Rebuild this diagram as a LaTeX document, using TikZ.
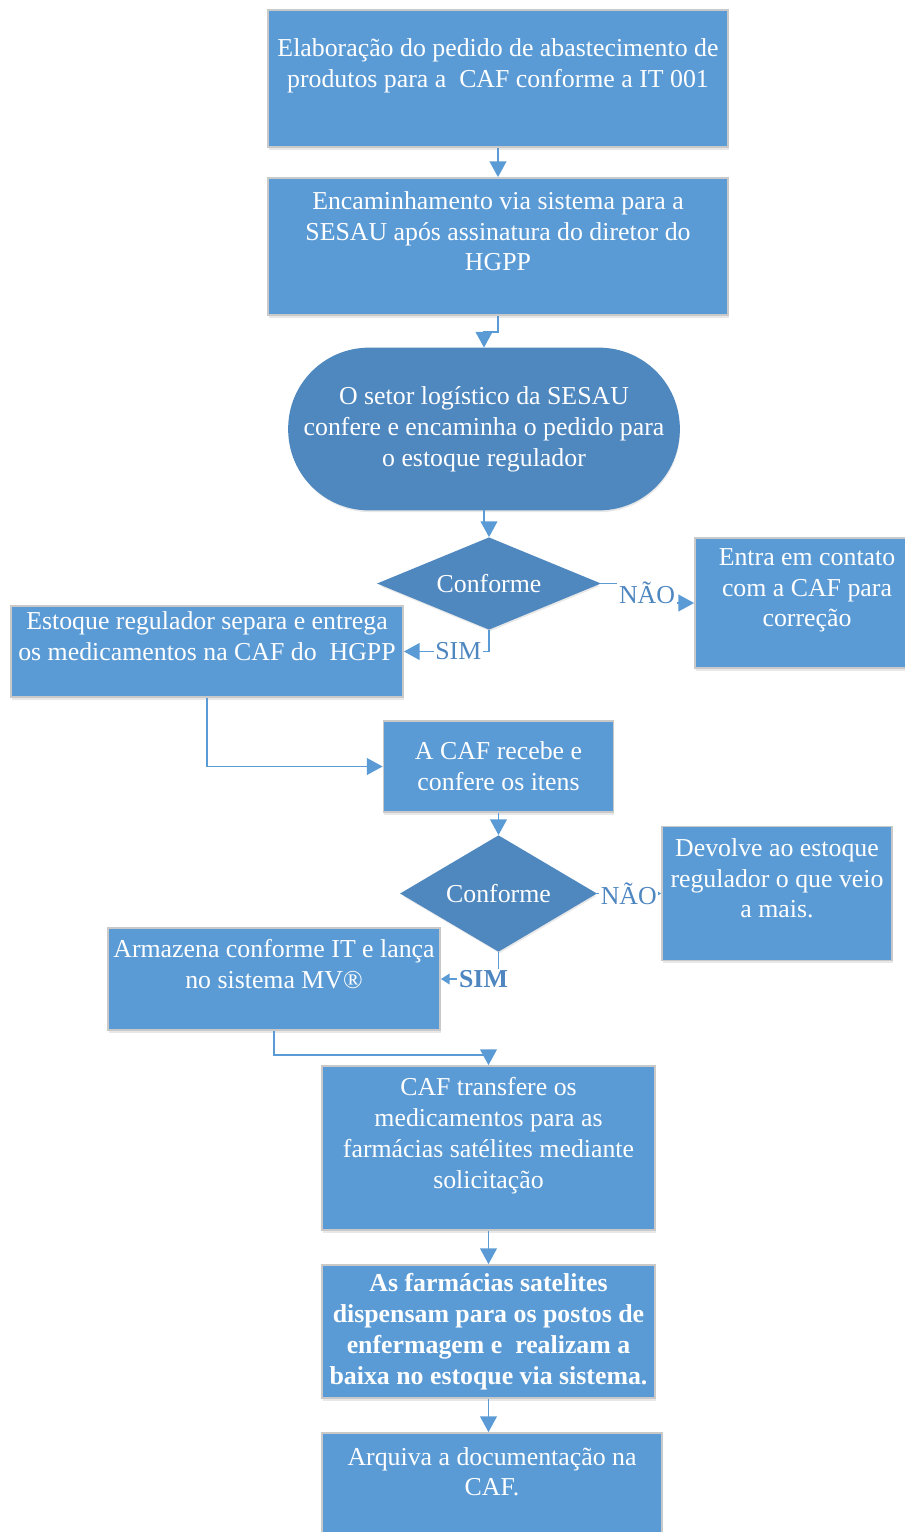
\documentclass[tikz,border=0pt]{standalone}
\usepackage{fontspec}
\setmainfont{Liberation Serif}
\usetikzlibrary{arrows.meta,shapes.geometric,shadows,calc}
\definecolor{boxblue}{HTML}{5B9BD5}
\definecolor{darkblue}{HTML}{4F87BF}
\definecolor{edge}{HTML}{C9C9C9}
\definecolor{lbltext}{HTML}{4E86C0}
\newcommand{\boxfont}{\fontsize{14.7}{17.6}\selectfont}
\tikzset{
  box/.style={draw=edge, line width=1pt, fill=boxblue, text=white, align=center, inner sep=1mm, font=\boxfont,
    drop shadow={shadow xshift=0.5pt, shadow yshift=-1.5pt, opacity=0.18}},
  roundbox/.style={box, draw=darkblue, fill=darkblue, rounded corners=1.6cm},
  decision/.style={box, diamond, draw=darkblue, fill=darkblue, inner sep=0pt},
  arrow/.style={-{Triangle[length=9pt,width=9.5pt]}, line width=1.1pt, draw=boxblue},
  smallarrow/.style={arrow, -{Triangle[length=5pt,width=6pt]}},
  lbl/.style={fill=white, text=lbltext, inner sep=1pt, font=\boxfont},
  boldlbl/.style={lbl, font=\boxfont\bfseries}
}

\begin{document}
\begin{tikzpicture}[x=0.02cm, y=-0.02cm]
  \useasboundingbox (0,0) rectangle (905,1532);
  \node[box, minimum width=9.2cm, minimum height=2.74cm] (ped) at (498,78.5) {Elaboração do pedido de abastecimento de\\produtos para a \ CAF conforme a IT 001\\~};
  \node[box, minimum width=9.2cm, minimum height=2.74cm] (enc) at (498,246.5) {Encaminhamento via sistema para a\\SESAU após assinatura do diretor do\\HGPP\\~};
  \node[roundbox, minimum width=7.8cm, minimum height=3.22cm] (setor) at (484,429) {O setor logístico da SESAU\\confere e encaminha o pedido para\\o estoque regulador};
  \node[decision, aspect=2.42, minimum width=4.4cm, minimum height=1.82cm] (conf1) at (489,583.5) {Conforme};
  \node[box, minimum width=4.48cm, minimum height=2.6cm] (cont) at (807,603) {Entra em contato\\com a CAF para\\correção\\~};
  \node[box, minimum width=7.84cm, minimum height=1.82cm] (est) at (207,651.5) {Estoque regulador separa e entrega\\os medicamentos na CAF do \ HGPP\\~};
  \node[box, minimum width=4.6cm, minimum height=1.82cm] (rec) at (498.5,766.5) {A CAF recebe e\\confere os itens};
  \node[decision, aspect=1.69, minimum width=3.88cm, minimum height=2.3cm] (conf2) at (498.5,893.5) {Conforme};
  \node[box, minimum width=4.6cm, minimum height=2.68cm] (dev) at (777,893.5) {Devolve ao estoque\\regulador o que veio\\a mais.\\~};
  \node[box, minimum width=6.64cm, minimum height=2.04cm] (arm) at (274,979) {Armazena conforme IT e lança\\no sistema MV®\\~};
  \node[box, minimum width=6.66cm, minimum height=3.28cm] (trf) at (488.5,1148) {CAF transfere os\\medicamentos para as\\farmácias satélites mediante\\solicitação\\~};
  \node[box, minimum width=6.66cm, minimum height=2.66cm, font=\boxfont\bfseries] (farm) at (488.5,1331.5) {As farmácias satelites\\dispensam para os postos de\\enfermagem e \ realizam a\\baixa no estoque via sistema.};
  \node[box, minimum width=6.8cm, minimum height=2.16cm] (arq) at (492,1487) {Arquiva a documentação na\\CAF.\\~};

  \draw[arrow] (ped) -- (enc);
  \draw[arrow] (enc.south) |- ($(enc.south)!.5!(setor.north)$) -| (setor.north);
  \draw[arrow] (setor.south) |- ($(setor.south)!.5!(conf1.north)$) -| (conf1.north);
  \coordinate (m1) at ($(conf1.east)!.5!(cont.west)$);
  \draw[arrow] (conf1.east) -| (m1) |- (cont.west);
  \node[lbl] at (m1) {NÃO};
  \draw[arrow] (conf1.south) |- node[lbl, pos=0.68] {SIM} (est.east);
  \draw[arrow] (est.south) |- (rec.west);
  \draw[arrow] (rec) -- (conf2);
  \draw[smallarrow] (conf2) -- node[lbl] {NÃO} (dev);
  \draw[smallarrow] (conf2.south) |- node[boldlbl, pos=0.63] {SIM} (arm.east);
  \draw[arrow] (arm.south) -- ++(0,24) -| (trf.north);
  \draw[arrow] (trf) -- (farm);
  \draw[arrow] (farm.south) -- (farm.south |- arq.north);
\end{tikzpicture}
\end{document}
